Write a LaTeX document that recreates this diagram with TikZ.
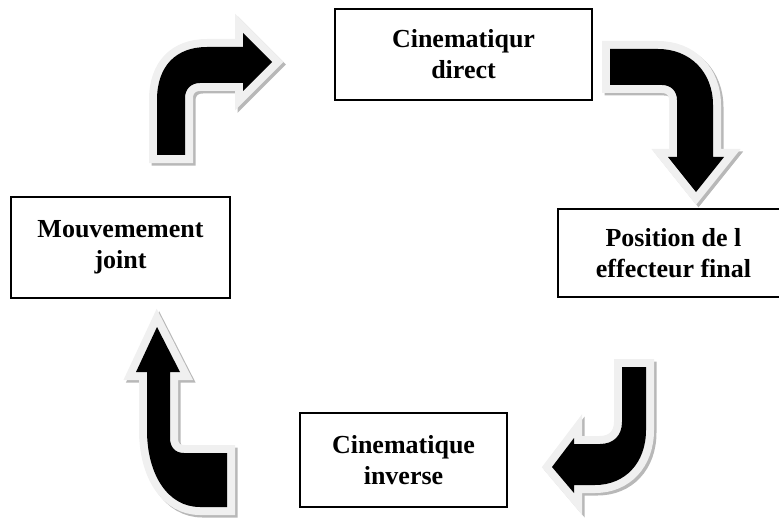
\documentclass[tikz,border=0pt]{standalone}
\usepackage{fontspec}
\setmainfont{Liberation Serif}
\usetikzlibrary{positioning}

% block arrow in three layers: shadow, light rim, black body
\newcommand{\blockarrow}[1]{%
  \draw[arrshadow, shift={(2.5,2.5)}] #1;
  \draw[arrrim] #1;
  \fill[arrbody] #1;
}

\begin{document}
\begin{tikzpicture}[
      x=1pt, y=-1pt,
      box/.style={rectangle, draw, line width=1.3pt, align=center,
                  inner sep=0pt, font=\fontsize{26}{31}\selectfont\bfseries},
      arrshadow/.style={draw=black!28, fill=black!28, line width=16pt, line join=miter},
      arrrim/.style={draw=black!6, fill=black!6, line width=16pt, line join=miter},
      arrbody/.style={fill=black}
    ]
    \useasboundingbox (0,0) rectangle (779,524);

    \node[box, minimum width=257pt, minimum height=91pt] (direct) at (463.5,54.5) {Cinematiqur\\direct};
    \node[box, minimum width=231pt, minimum height=88pt] (final) at (673.5,253) {Position de l\\effecteur final};
    \node[box, minimum width=207pt, minimum height=94pt] (inverse) at (403.5,460) {Cinematique\\inverse};
    \node[box, minimum width=219pt, minimum height=101pt] (joint) at (120.5,247.5) {Mouvemement\\joint};

    % joint -> direct
    \blockarrow{(157,155) -- (157,100) .. controls (157,66) and (176,47) .. (207,47) -- (243,47)
      -- (243,33) -- (272,62) -- (243,91) -- (243,83) -- (200,83)
      .. controls (191,83) and (185,89) .. (185,98) -- (185,155) -- cycle}

    % direct -> final
    \blockarrow{(610,49) -- (658,49) .. controls (690,49) and (713,72) .. (713,105) -- (713,157)
      -- (724,157) -- (696,192) -- (668,157) -- (677,157) -- (677,100)
      .. controls (677,91) and (671,85) .. (662,85) -- (610,85) -- cycle}

    % final -> inverse
    \blockarrow{(622,367) -- (646,367) -- (646,430) .. controls (646,463) and (625,485) .. (595,485)
      -- (574,485) -- (574,493) -- (552,467) -- (574,438) -- (574,444) -- (600,444)
      .. controls (613,444) and (622,436) .. (622,422) -- cycle}

    % inverse -> joint
    \blockarrow{(227,507) -- (200,507) .. controls (168,507) and (147,475) .. (147,430) -- (147,372)
      -- (136,372) -- (157,327) -- (180,372) -- (170,372) -- (170,438)
      .. controls (170,447) and (175,453) .. (184,453) -- (227,453) -- cycle}

  \end{tikzpicture}
\end{document}
